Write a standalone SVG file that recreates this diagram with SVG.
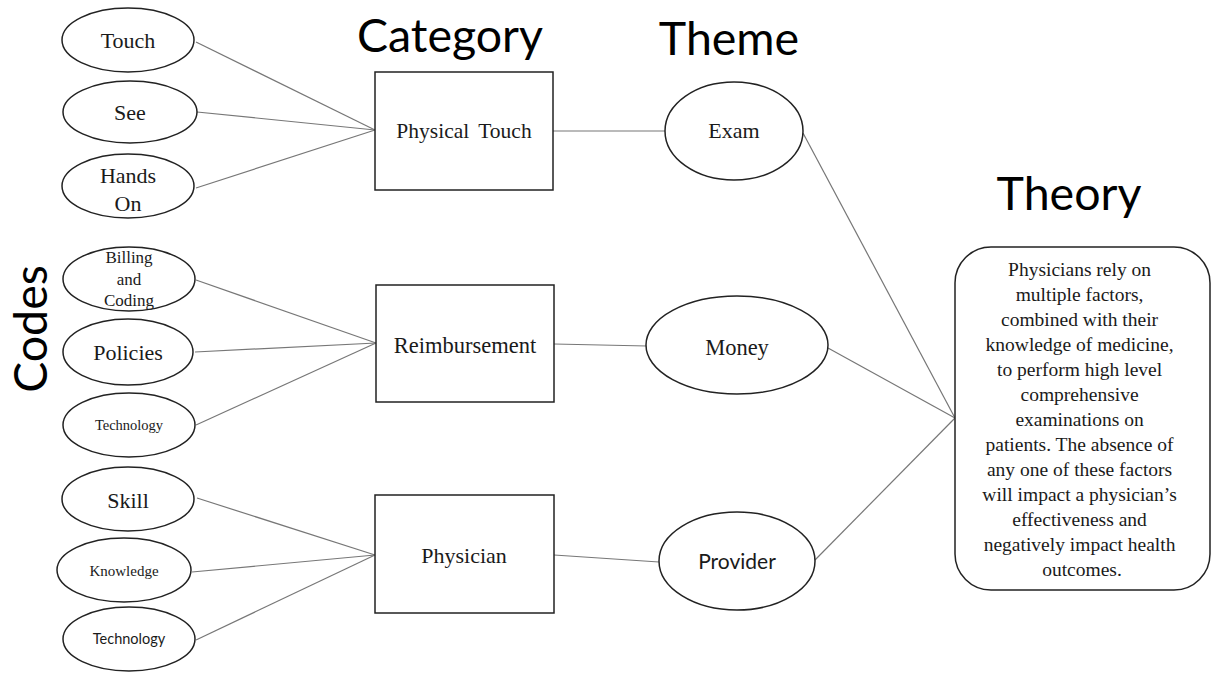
<svg xmlns="http://www.w3.org/2000/svg" width="1216" height="673" viewBox="0 0 1216 673">
<style>
.bg{fill:#ffffff}
.node{fill:#ffffff;stroke:#222;stroke-width:1.5}
.lbl{font-family:"Liberation Serif","Times New Roman",serif;fill:#1a1a1a;text-anchor:middle}
.sans{font-family:Lato,"Open Sans",sans-serif;fill:#1a1a1a;text-anchor:middle}
.title{font-family:Lato,"Open Sans",sans-serif;fill:#000;font-size:46.5px;text-anchor:middle}
.conn line{stroke:#777;stroke-width:1.2}
</style>
<rect class="bg" x="0" y="0" width="1216" height="673"/>
<g class="conn" id="connectors">
<line x1="196" y1="42" x2="375" y2="130"/>
<line x1="197" y1="112" x2="375" y2="130"/>
<line x1="196" y1="188" x2="375" y2="130"/>
<line x1="196" y1="280" x2="376" y2="343"/>
<line x1="195" y1="352" x2="376" y2="343"/>
<line x1="196" y1="425" x2="376" y2="343"/>
<line x1="197" y1="498" x2="375" y2="555"/>
<line x1="192" y1="572" x2="375" y2="555"/>
<line x1="196" y1="640" x2="375" y2="555"/>
<line x1="553" y1="131" x2="665" y2="131"/>
<line x1="554" y1="344" x2="647" y2="346"/>
<line x1="554" y1="555" x2="659" y2="562"/>
<line x1="803" y1="133" x2="955" y2="418"/>
<line x1="828" y1="348" x2="955" y2="418"/>
<line x1="815" y1="560" x2="955" y2="418"/>
</g>
<g id="titles">
<text class="title" x="450" y="52">Category</text>
<text class="title" x="729" y="55">Theme</text>
<text class="title" x="1069" y="210">Theory</text>
<text class="title" transform="translate(47,329) rotate(-90)" x="0" y="0">Codes</text>
</g>
<g id="code-touch"><ellipse class="node" cx="128" cy="40" rx="66" ry="32"/><text class="lbl" x="128" y="48" font-size="22">Touch</text></g>
<g id="code-see"><ellipse class="node" cx="130" cy="112" rx="67" ry="31"/><text class="lbl" x="130" y="120" font-size="22">See</text></g>
<g id="code-hands-on"><ellipse class="node" cx="128" cy="186" rx="66" ry="32"/><text class="lbl" x="128" y="183" font-size="22">Hands</text><text class="lbl" x="128" y="211" font-size="22">On</text></g>
<g id="code-billing"><ellipse class="node" cx="129" cy="279" rx="66" ry="32"/><text class="lbl" x="129" y="263" font-size="17">Billing</text><text class="lbl" x="129" y="285" font-size="17">and</text><text class="lbl" x="129" y="306" font-size="17">Coding</text></g>
<g id="code-policies"><ellipse class="node" cx="128" cy="352" rx="65" ry="33"/><text class="lbl" x="128" y="360" font-size="22">Policies</text></g>
<g id="code-technology-1"><ellipse class="node" cx="129" cy="425" rx="66" ry="32"/><text class="lbl" x="129" y="430" font-size="14.5">Technology</text></g>
<g id="code-skill"><ellipse class="node" cx="128" cy="499" rx="66" ry="32"/><text class="lbl" x="128" y="508" font-size="22">Skill</text></g>
<g id="code-knowledge"><ellipse class="node" cx="124" cy="570" rx="67" ry="32"/><text class="lbl" x="124" y="576" font-size="15">Knowledge</text></g>
<g id="code-technology-2"><ellipse class="node" cx="129" cy="639" rx="66" ry="32"/><text class="sans" x="129" y="644" font-size="14.5">Technology</text></g>
<g id="cat-physical-touch"><rect class="node" x="375" y="72" width="178" height="118"/><text class="lbl" x="464" y="138" font-size="21.5" word-spacing="4">Physical Touch</text></g>
<g id="cat-reimbursement"><rect class="node" x="376" y="285" width="178" height="117"/><text class="lbl" x="465" y="353" font-size="22.5">Reimbursement</text></g>
<g id="cat-physician"><rect class="node" x="375" y="495" width="179" height="118"/><text class="lbl" x="464" y="563" font-size="22">Physician</text></g>
<g id="theme-exam"><ellipse class="node" cx="734" cy="131" rx="69" ry="49"/><text class="lbl" x="734" y="138" font-size="22">Exam</text></g>
<g id="theme-money"><ellipse class="node" cx="737" cy="345" rx="91" ry="49"/><text class="lbl" x="737" y="355" font-size="22.5">Money</text></g>
<g id="theme-provider"><ellipse class="node" cx="737" cy="561" rx="78" ry="49"/><text class="sans" x="737" y="569" font-size="21">Provider</text></g>
<g id="theory">
<rect class="node" x="955" y="247" width="255" height="343" rx="36" ry="36"/>
<text class="lbl" font-size="19.5">
<tspan x="1082" y="276">Physicians rely on</tspan>
<tspan x="1082" y="301">multiple factors,</tspan>
<tspan x="1082" y="326">combined with their</tspan>
<tspan x="1082" y="351">knowledge of medicine,</tspan>
<tspan x="1082" y="376">to perform high level</tspan>
<tspan x="1082" y="401">comprehensive</tspan>
<tspan x="1082" y="426">examinations on</tspan>
<tspan x="1082" y="451">patients. The absence of</tspan>
<tspan x="1082" y="476">any one of these factors</tspan>
<tspan x="1082" y="501">will impact a physician’s</tspan>
<tspan x="1082" y="526">effectiveness and</tspan>
<tspan x="1082" y="551">negatively impact health</tspan>
<tspan x="1082" y="576">outcomes.</tspan>
</text>
</g>
</svg>
